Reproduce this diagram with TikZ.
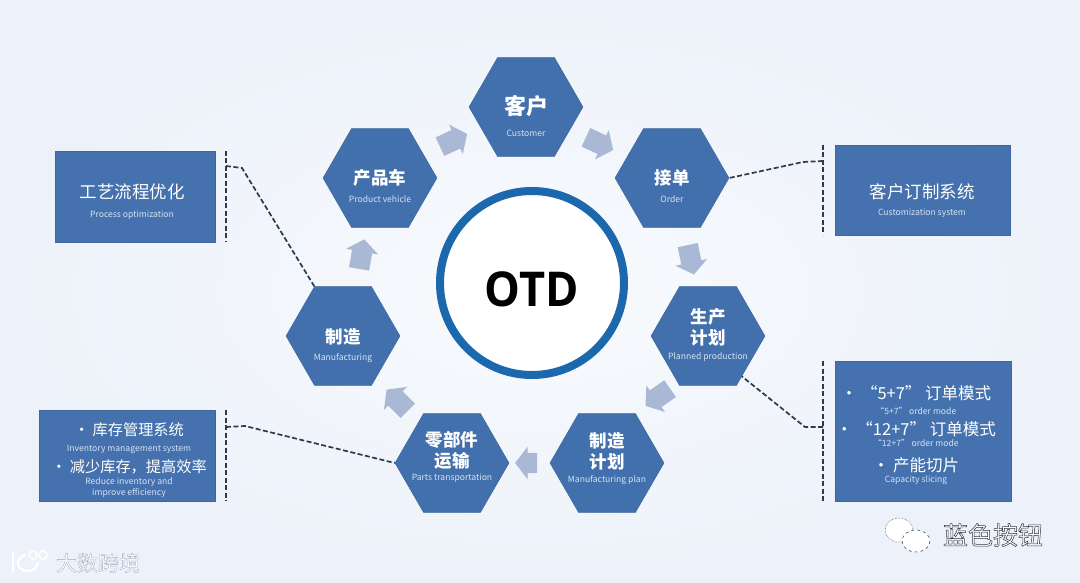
\documentclass[tikz,border=0pt]{standalone}
\usepackage{fontspec}
\setmainfont{Noto Sans CJK SC}
\newfontfamily\otdfont{Open Sans}
\usetikzlibrary{shapes.geometric,shapes.arrows}
\definecolor{hexblue}{HTML}{4270AC}
\definecolor{boxblue}{HTML}{4572AE}
\definecolor{ringblue}{HTML}{1C68AC}
\definecolor{arrowgray}{HTML}{A9B8D4}
\definecolor{dashink}{HTML}{2A3B50}
\definecolor{entext}{HTML}{D5E2F4}
\definecolor{bgin}{HTML}{F8FAFD}
\definecolor{bgout}{HTML}{EDF2FA}
\newcommand{\cn}[1]{{\fontsize{17.5}{20}\selectfont\bfseries #1}}
\newcommand{\bx}[1]{{\fontsize{16.5}{16}\selectfont #1}}
\newcommand{\bs}[1]{{\fontsize{15.2}{16}\selectfont #1}}
\newcommand{\en}[1]{{\fontsize{8.6}{16}\selectfont\color{entext} #1}}
\newcommand{\outlined}[1]{\special{pdf:code q 2 Tr 0.5 w 0.2 0.2 0.25 RG}#1\special{pdf:code 0 Tr Q}}
\newcommand{\softline}[1]{\special{pdf:code q 2 Tr 0.3 w 0.6 0.66 0.75 RG}#1\special{pdf:code 0 Tr Q}}
\tikzset{
  hexnode/.style={regular polygon,regular polygon sides=6,fill=hexblue,draw=hexblue!90!black,line width=.4pt,minimum size=114pt,inner sep=0pt},
  hextext/.style={text=white,align=center,inner sep=0pt,font=\fontsize{16}{21}\selectfont},
  paneltext/.style={text=white,align=center,inner sep=0pt,font=\fontsize{16}{16}\selectfont},
  panel/.style={rectangle,fill=boxblue,draw=boxblue!90!black,line width=.4pt,inner sep=0pt,anchor=north west},
  flow/.style={single arrow,fill=arrowgray,minimum width=32pt,minimum height=30pt,single arrow head extend=6pt,single arrow tip angle=105,inner xsep=0pt,inner ysep=10pt},
  dashlink/.style={draw=dashink,line width=1.7pt,dash pattern=on 5pt off 2.5pt},
  watermark/.style={text=white,inner sep=0pt}
}
\begin{document}
\begin{tikzpicture}[x=1pt,y=-1pt]
\useasboundingbox (0,0) rectangle (1080,583);
\shade[inner color=bgin,outer color=bgout] (0,0) rectangle (1080,583);
% centre
\node[circle,draw=ringblue,line width=8pt,fill=white,minimum size=184pt,inner sep=0pt] (otd) at (532,283) {};
\node[inner sep=0pt,text=black] (otdt) at (532,289) {\scalebox{.94}[1]{\otdfont\bfseries\fontsize{48}{50}\selectfont OTD}};
% hexagons
\node[hexnode] (h1) at (526,107) {};
\node[hexnode] (h2) at (672,178) {};
\node[hexnode] (h3) at (708,336) {};
\node[hexnode] (h4) at (607,463) {};
\node[hexnode] (h5) at (452,463) {};
\node[hexnode] (h6) at (343,336) {};
\node[hexnode] (h7) at (380,178) {};
% hexagon labels
\node[hextext] (t1a) at (526,106) {\fontsize{22}{24}\selectfont\bfseries 客户};
\node[hextext] (t1b) at (526,133) {\en{Customer}};
\node[hextext] (t2a) at (672,178) {\cn{接单}};
\node[hextext] (t2b) at (672,199) {\en{Order}};
\node[hextext] (t3a) at (708,327) {\cn{生产}\\\cn{计划}};
\node[hextext] (t3b) at (708,357) {\en{Planned production}};
\node[hextext] (t4a) at (607,451) {\cn{制造}\\\cn{计划}};
\node[hextext] (t4b) at (607,480) {\en{Manufacturing plan}};
\node[hextext] (t5a) at (452,450) {\cn{零部件}\\\cn{运输}};
\node[hextext] (t5b) at (452,478) {\en{Parts transportation}};
\node[hextext] (t6a) at (343,337) {\cn{制造}};
\node[hextext] (t6b) at (343,358) {\en{Manufacturing}};
\node[hextext] (t7a) at (380,178) {\cn{产品车}};
\node[hextext] (t7b) at (380,199) {\en{Product vehicle}};
% flow arrows
\node[flow,rotate=25] (a1) at (450,142) {};
\node[flow,rotate=-25] (a2) at (596,142) {};
\node[flow,rotate=-78] (a3) at (690,256) {};
\node[flow,rotate=215] (a4) at (661,395) {};
\node[flow,rotate=180,minimum height=22pt] (a5) at (530,463) {};
\node[flow,rotate=135] (a6) at (400,403) {};
\node[flow,rotate=80] (a7) at (361,258) {};
% side panels
\node[panel,minimum width=160pt,minimum height=91pt] (p1) at (55,151) {};
\node[panel,minimum width=175pt,minimum height=90pt] (p2) at (835,145) {};
\node[panel,minimum width=176pt,minimum height=140pt] (p3) at (835,361) {};
\node[panel,minimum width=176pt,minimum height=91pt] (p4) at (39,410) {};
\node[paneltext] (p1t) at (132,202) {{\fontsize{17.5}{16}\selectfont 工艺流程优化}\\[3pt]\en{Process optimization}};
\node[paneltext] (p2t) at (922,201) {{\fontsize{17.5}{16}\selectfont 客户订制系统}\\[1pt]\en{Customization system}};
\node[paneltext] (p3t) at (916,435) {\bx{• “5+7” 订单模式}\\[-1pt]\en{“5+7” order mode}\\[5pt]\bx{• “12+7” 订单模式}\\[-5pt]\en{“12+7” order mode}\\[9pt]\bx{• 产能切片}\\[-5pt]\en{Capacity slicing}};
\node[paneltext] (p4t) at (129,460) {\bs{• 库存管理系统}\\[0pt]\en{Inventory management system}\\[5pt]\bs{• 减少库存，提高效率}\\[-4pt]\en{Reduce inventory and}\\[-5pt]\en{improve efficiency}};
% dashed connectors
\coordinate (v1a) at (226,151); \coordinate (v1b) at (226,242);
\coordinate (e1a) at (226,166); \coordinate (e1b) at (242,168);
\coordinate (v2a) at (823,145); \coordinate (v2b) at (823,235);
\coordinate (e2a) at (823,161); \coordinate (e2b) at (803,162);
\coordinate (v3a) at (823,361); \coordinate (v3b) at (823,501);
\coordinate (e3a) at (823,427); \coordinate (e3b) at (805,427);
\coordinate (v4a) at (226,410); \coordinate (v4b) at (226,501);
\coordinate (e4a) at (226,427); \coordinate (e4b) at (245,426);
\draw[dashlink] (v1a) -- (v1b);
\draw[dashlink] (e1a) -- (e1b) -- (h6.120);
\draw[dashlink] (v2a) -- (v2b);
\draw[dashlink] (e2a) -- (e2b) -- (h2.east);
\draw[dashlink] (v3a) -- (v3b);
\draw[dashlink] (e3a) -- (e3b) -- (h3.-50);
\draw[dashlink] (v4a) -- (v4b);
\draw[dashlink] (e4a) -- (e4b) -- (h5.west);
% watermarks
\node[watermark] (w1) at (98,563) {\fontsize{21}{24}\selectfont\softline{大数跨境}};
\draw[white,line width=2.2pt,line cap=round] (13,553) -- (13,571);
\draw[white,line width=2.2pt,line cap=round] (25,555) .. controls (15,558) and (15,570) .. (28,571) .. controls (34,571) and (37,567) .. (38,563);
\draw[white,line width=1.5pt] (33,555) circle (4);
\draw[white,line width=1.5pt] (43,555) circle (4);
\fill[white] (899,530) ellipse (14 and 12);
\draw[dashink,densely dotted,line width=.5pt] (899,530) ellipse (14 and 12);
\fill[white] (916,541) ellipse (14 and 11);
\draw[dashink,dashed,line width=.5pt] (916,541) ellipse (14 and 11);
\node[watermark] (w2) at (993,535) {\fontsize{25}{28}\selectfont\outlined{蓝色按钮}};
\end{tikzpicture}
\end{document}
